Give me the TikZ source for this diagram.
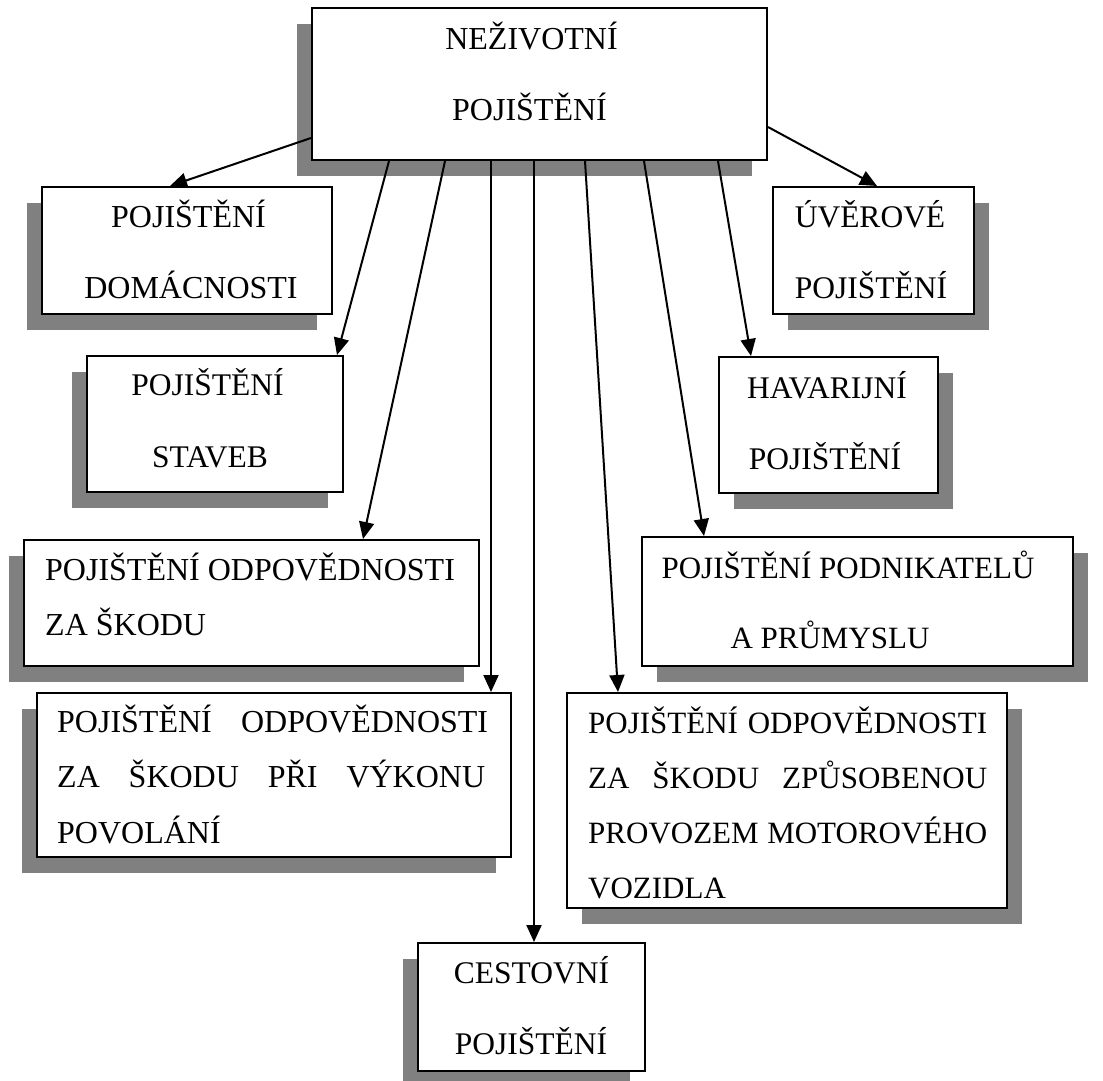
\documentclass[tikz,border=0pt]{standalone}
\usepackage{fontspec}
\setmainfont{Liberation Serif}
\usetikzlibrary{arrows.meta,shadows}
\definecolor{shade}{RGB}{128,128,128}
\tikzset{
  box/.style={draw=black, line width=2pt, fill=white, rectangle, inner sep=0pt},
  shadowleft/.style={drop shadow={shadow xshift=-15pt, shadow yshift=-16pt, fill=shade, opacity=1}},
  shadowright/.style={drop shadow={shadow xshift=15pt, shadow yshift=-16pt, fill=shade, opacity=1}},
  txt/.style={inner sep=0pt, anchor=base, font=\fontsize{32}{38}\selectfont},
  txts/.style={inner sep=0pt, anchor=base, font=\fontsize{31.5}{37}\selectfont},
  txtn/.style={inner sep=0pt, anchor=base, font=\fontsize{31}{36}\selectfont},
  ltxt/.style={txt, anchor=base west},
  ltxtn/.style={txtn, anchor=base west},
  arr/.style={line width=2pt, -{Triangle[length=17pt,width=15pt]}},
}
\begin{document}
\begin{tikzpicture}[x=1pt, y=-1pt]
\useasboundingbox (0,0) rectangle (1103,1081);

% boxes
\node[box, shadowleft,  minimum width=455pt, minimum height=152pt] (root)  at (539.5,84)   {};
\node[box, shadowleft,  minimum width=290pt, minimum height=127pt] (dom)   at (187,250.5)  {};
\node[box, shadowleft,  minimum width=256pt, minimum height=136pt] (stav)  at (215,424)    {};
\node[box, shadowleft,  minimum width=455pt, minimum height=126pt] (skoda) at (251.5,603)  {};
\node[box, shadowleft,  minimum width=474pt, minimum height=164pt] (pov)   at (274,775)    {};
\node[box, shadowleft,  minimum width=227pt, minimum height=128pt] (cest)  at (531.5,1007) {};
\node[box, shadowright, minimum width=440pt, minimum height=215pt] (motor) at (787,800.5)  {};
\node[box, shadowright, minimum width=431pt, minimum height=129pt] (podn)  at (857.5,601.5){};
\node[box, shadowright, minimum width=219pt, minimum height=136pt] (hav)   at (828.5,425)  {};
\node[box, shadowright, minimum width=201pt, minimum height=127pt] (uver)  at (873.5,250.5){};

% labels
\node[txt] (root1) at (531.5,49)  {NEŽIVOTNÍ};
\node[txt] (root2) at (529.5,120) {POJIŠTĚNÍ};

\node[txt] (dom1) at (188.5,227) {POJIŠTĚNÍ};
\node[txt] (dom2) at (191,298)   {DOMÁCNOSTI};

\node[txts] (stav1) at (207.5,395) {POJIŠTĚNÍ};
\node[txts] (stav2) at (210,467)   {STAVEB};

\node[ltxt] (skoda1) at (45,580) {POJIŠTĚNÍ ODPOVĚDNOSTI};
\node[ltxt] (skoda2) at (45,635) {ZA ŠKODU};

\node[ltxt] (pov1) at (57,732) {\makebox[431pt]{POJIŠTĚNÍ\hfill ODPOVĚDNOSTI}};
\node[ltxt] (pov2) at (57,787) {\makebox[428pt]{ZA\hfill ŠKODU\hfill PŘI\hfill VÝKONU}};
\node[ltxt] (pov3) at (57,843) {POVOLÁNÍ};

\node[txts] (cest1) at (531.5,983) {CESTOVNÍ};
\node[txts] (cest2) at (531,1054)  {POJIŠTĚNÍ};

\node[ltxtn] (motor1) at (588,733) {\makebox[399pt]{POJIŠTĚNÍ\hfill ODPOVĚDNOSTI}};
\node[ltxtn] (motor2) at (588,788) {\makebox[399pt]{ZA\hfill ŠKODU\hfill ZPŮSOBENOU}};
\node[ltxtn] (motor3) at (588,843) {\makebox[399pt]{PROVOZEM\hfill MOTOROVÉHO}};
\node[ltxtn] (motor4) at (588,898) {VOZIDLA};

\node[txtn] (podn1) at (848,578) {POJIŠTĚNÍ PODNIKATELŮ};
\node[txtn] (podn2) at (830,648) {A PRŮMYSLU};

\node[txts] (hav1) at (827,398) {HAVARIJNÍ};
\node[txts] (hav2) at (825,469) {POJIŠTĚNÍ};

\node[txts] (uver1) at (870,227) {ÚVĚROVÉ};
\node[txts] (uver2) at (871,298) {POJIŠTĚNÍ};

% connector start points on the root box
\coordinate (sdom)   at ([yshift=23pt]root.south west);
\coordinate (suver)  at ([yshift=34pt]root.south east);
\coordinate (sstav)  at ([xshift=78pt]root.south west);
\coordinate (sskoda) at ([xshift=134pt]root.south west);
\coordinate (spov)   at ([xshift=180pt]root.south west);
\coordinate (scest)  at ([xshift=223pt]root.south west);
\coordinate (smotor) at ([xshift=274pt]root.south west);
\coordinate (spodn)  at ([xshift=333pt]root.south west);
\coordinate (shav)   at ([xshift=407pt]root.south west);

% connectors
\draw[arr] (sdom)   -- ([xshift=-17pt]dom.north);
\draw[arr] (suver)  -- ([xshift=3.5pt]uver.north);
\draw[arr] (sstav)  -- ([xshift=-7pt]stav.north east);
\draw[arr] (sskoda) -- ([xshift=-117pt]skoda.north east);
\draw[arr] (spov)   -- (spov |- pov.north);
\draw[arr] (scest)  -- (scest |- cest.north);
\draw[arr] (smotor) -- ([xshift=52pt]motor.north west);
\draw[arr] (spodn)  -- ([xshift=63pt]podn.north west);
\draw[arr] (shav)   -- ([xshift=33pt]hav.north west);
\end{tikzpicture}
\end{document}
